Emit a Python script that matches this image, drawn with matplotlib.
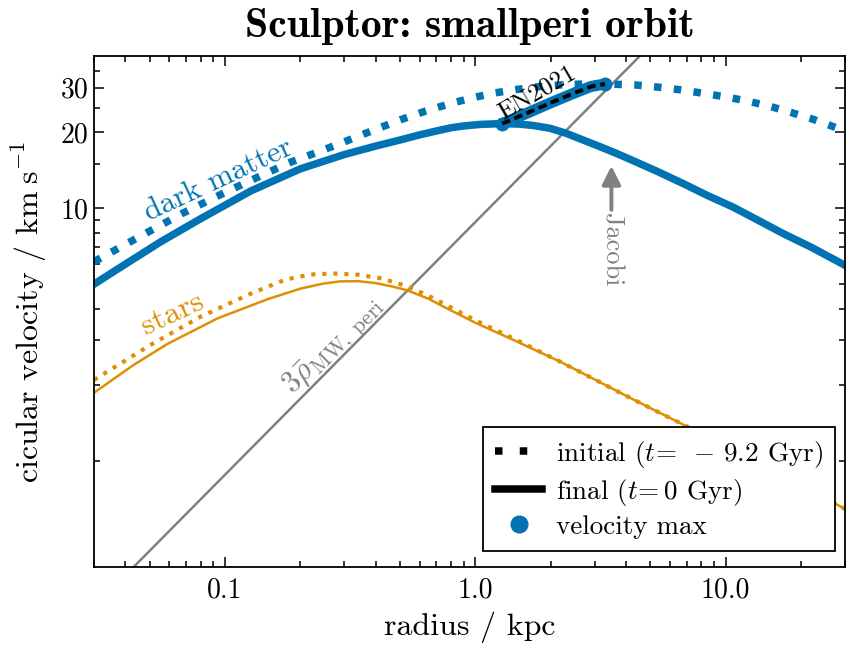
import numpy as np
import matplotlib
matplotlib.use("Agg")
import matplotlib.pyplot as plt
from matplotlib.lines import Line2D
from matplotlib.ticker import FixedLocator, FixedFormatter, NullFormatter

plt.rcParams['font.family'] = 'serif'
plt.rcParams['font.serif'] = ['cmr10']
plt.rcParams['mathtext.fontset'] = 'cm'
plt.rcParams['axes.formatter.use_mathtext'] = True

blue = '#0173b2'
orange = '#de8f05'

# dark matter, initial snapshot
r_dm_i = [0.03, 0.0454, 0.0676, 0.1007, 0.150, 0.183, 0.24, 0.30, 0.40, 0.511, 0.632, 0.782,
          0.955, 1.18, 1.47, 1.82, 2.2, 2.6, 3.0, 3.5, 4.4, 5.4, 6.6, 8.1, 9.9, 12.1, 15.0,
          18.3, 22.3, 27.7, 30.0]
v_dm_i = [6.14, 7.69, 9.53, 11.57, 13.9, 15.2, 16.8, 18.3, 20.5, 22.5, 24.2, 25.8,
          27.2, 28.5, 29.5, 30.3, 30.75, 30.95, 31.0, 30.95, 30.7, 30.1, 29.4, 28.5, 27.6, 26.6,
          25.3, 23.9, 22.5, 20.8, 20.2]

# dark matter, final snapshot
r_dm_f = [0.03, 0.04, 0.0553, 0.080, 0.127, 0.20, 0.30, 0.40, 0.50, 0.60, 0.70, 0.80, 0.90,
          1.05, 1.28, 1.50, 1.70, 1.99, 2.30, 2.70, 3.20, 3.70, 4.28, 5.4, 6.78, 8.5, 10.7,
          13.5, 17.0, 22.0, 30.0]
v_dm_f = [5.0, 6.0, 7.35, 9.08, 11.7, 14.3, 16.3, 17.6, 18.6, 19.5, 20.2, 20.8, 21.15,
          21.45, 21.6, 21.5, 21.25, 20.7, 19.8, 18.6, 17.4, 16.4, 15.4, 13.9, 12.5, 11.2, 10.1,
          8.95, 7.93, 7.0, 5.94]

# stars, final snapshot
r_st_f = [0.03, 0.0433, 0.0589, 0.0933, 0.148, 0.20, 0.245, 0.289, 0.34, 0.40, 0.465, 0.535,
          0.65, 0.771, 1.0, 1.42, 2.18, 2.62, 4.0, 6.98, 10.0, 15.0, 20.0, 30.0]
v_st_f = [1.86, 2.40, 2.90, 3.66, 4.36, 4.80, 5.02, 5.13, 5.14, 5.05, 4.90, 4.73,
          4.38, 4.01, 3.52, 3.01, 2.47, 2.25, 1.81, 1.37, 1.14, 0.93, 0.80, 0.645]

# stars, initial snapshot
r_st_i = [0.03, 0.0506, 0.080, 0.127, 0.175, 0.22, 0.272, 0.342, 0.418, 0.472, 0.535, 0.65,
          0.771, 1.0, 1.42, 2.18, 2.62, 4.0, 6.98, 10.0, 15.0, 20.0, 30.0]
v_st_i = [2.09, 2.88, 3.72, 4.59, 5.22, 5.46, 5.51, 5.45, 5.28, 5.10, 4.90, 4.50,
          4.12, 3.60, 3.05, 2.47, 2.25, 1.81, 1.37, 1.14, 0.93, 0.80, 0.645]

# tidal track of vmax (Errani & Navarro 2021)
r_track = [1.28, 1.6, 2.0, 2.5, 2.9, 3.3]
v_track = [21.6, 23.7, 26.1, 28.6, 30.3, 31.0]

# velocity maxima (final, initial)
r_vmax = [1.28, 3.3]
v_vmax = [21.6, 31.0]

# constant-density line, 3 x mean MW density at pericentre
r_rho = [0.03, 30.0]
v_rho = [0.264, 264.0]

r_jacobi = 3.5

xticks = [0.1, 1.0, 10.0]
xticklabels = ['0.1', '1.0', '10.0']
yticks = [10, 20, 30]
yticklabels = ['10', '20', '30']
yminor = [1, 2, 3, 4, 5, 6, 7, 8, 9, 15, 25, 35]

fig = plt.figure(figsize=(8.46, 6.46), dpi=100)
ax = fig.add_axes([94 / 846, 1 - 567 / 646, 751 / 846, 511 / 646])

ax.plot(r_rho, v_rho, color='gray', lw=1.8, zorder=1)
ax.plot(r_dm_i, v_dm_i, color=blue, lw=5.4, ls=':', zorder=2)
ax.plot(r_dm_f, v_dm_f, color=blue, lw=5.4, zorder=2)
ax.plot(r_st_i, v_st_i, color=orange, lw=3, ls=':', zorder=2)
ax.plot(r_st_f, v_st_f, color=orange, lw=1.8, zorder=2)
ax.plot(r_track, v_track, color=blue, lw=8, solid_capstyle='round', zorder=3)
ax.plot(r_track, v_track, color='k', lw=2.8, dashes=(2.2, 1.2), zorder=4)
ax.plot(r_vmax, v_vmax, 'o', color=blue, ms=9, zorder=3)

ax.set_xscale('log')
ax.set_yscale('log')
ax.set_xlim(0.03, 30)
ax.set_ylim(0.38, 40)

ax.xaxis.set_major_locator(FixedLocator(xticks))
ax.xaxis.set_major_formatter(FixedFormatter(xticklabels))
ax.xaxis.set_minor_formatter(NullFormatter())
ax.yaxis.set_major_locator(FixedLocator(yticks))
ax.yaxis.set_major_formatter(FixedFormatter(yticklabels))
ax.yaxis.set_minor_locator(FixedLocator(yminor))
ax.yaxis.set_minor_formatter(NullFormatter())
ax.tick_params(which='both', direction='in', top=True, right=True, width=1.1)
ax.tick_params(which='major', length=7, labelsize=20)
ax.tick_params(which='minor', length=4)
ax.tick_params(axis='x', which='major', pad=7)
ax.tick_params(axis='y', which='major', pad=4)
for s in ax.spines.values():
    s.set_linewidth(1.3)

ax.text(0.0942, 12.9, 'dark matter', color=blue, rotation=25, ha='center', va='center',
        rotation_mode='anchor', fontsize=22)
ax.text(0.062, 3.81, 'stars', color=orange, rotation=25, ha='center', va='center',
        rotation_mode='anchor', fontsize=23)
ax.text(0.272, 2.85, r'$3\bar{\rho}_\mathrm{MW,\ peri}$', color='gray', rotation=45,
        ha='center', va='center', rotation_mode='anchor', fontsize=22)
ax.text(1.76, 28.7, 'EN2021', color='k', rotation=30, ha='center', va='center',
        rotation_mode='anchor', fontsize=18)
ax.annotate('Jacobi', xy=(r_jacobi, 14.7), xytext=(r_jacobi, 9.6), rotation=270,
            ha='center', va='top', color='gray', fontsize=19,
            arrowprops=dict(arrowstyle='-|>', color='gray', lw=2.8, mutation_scale=28,
                            shrinkA=0, shrinkB=0))

handles = [Line2D([], [], color='k', lw=5.4, dashes=(1, 2.3)),
           Line2D([], [], color='k', lw=5.4),
           Line2D([], [], color=blue, ls='none', marker='o', ms=12)]
labels = [r'initial ($t\!=\ -\,9.2$ Gyr)', r'final ($t\!=0$ Gyr)', 'velocity max']
leg = ax.legend(handles, labels, loc='lower right', bbox_to_anchor=(0.9867, 0.031),
                borderaxespad=0, fancybox=False, framealpha=1, edgecolor='k',
                fontsize=19.5, handlelength=1.75, handletextpad=0.5, labelspacing=0.26,
                borderpad=0.45)
leg.get_frame().set_linewidth(1.3)

ax.set_xlabel('radius / kpc', fontsize=23, labelpad=6)
ax.set_ylabel(r'cicular velocity / $\mathrm{km\;s}^{-1}$', fontsize=23, labelpad=8)
ax.set_title('Sculptor: smallperi orbit', fontfamily='cmb10', fontsize=30, pad=14)

fig.savefig('out.png', dpi=100)
